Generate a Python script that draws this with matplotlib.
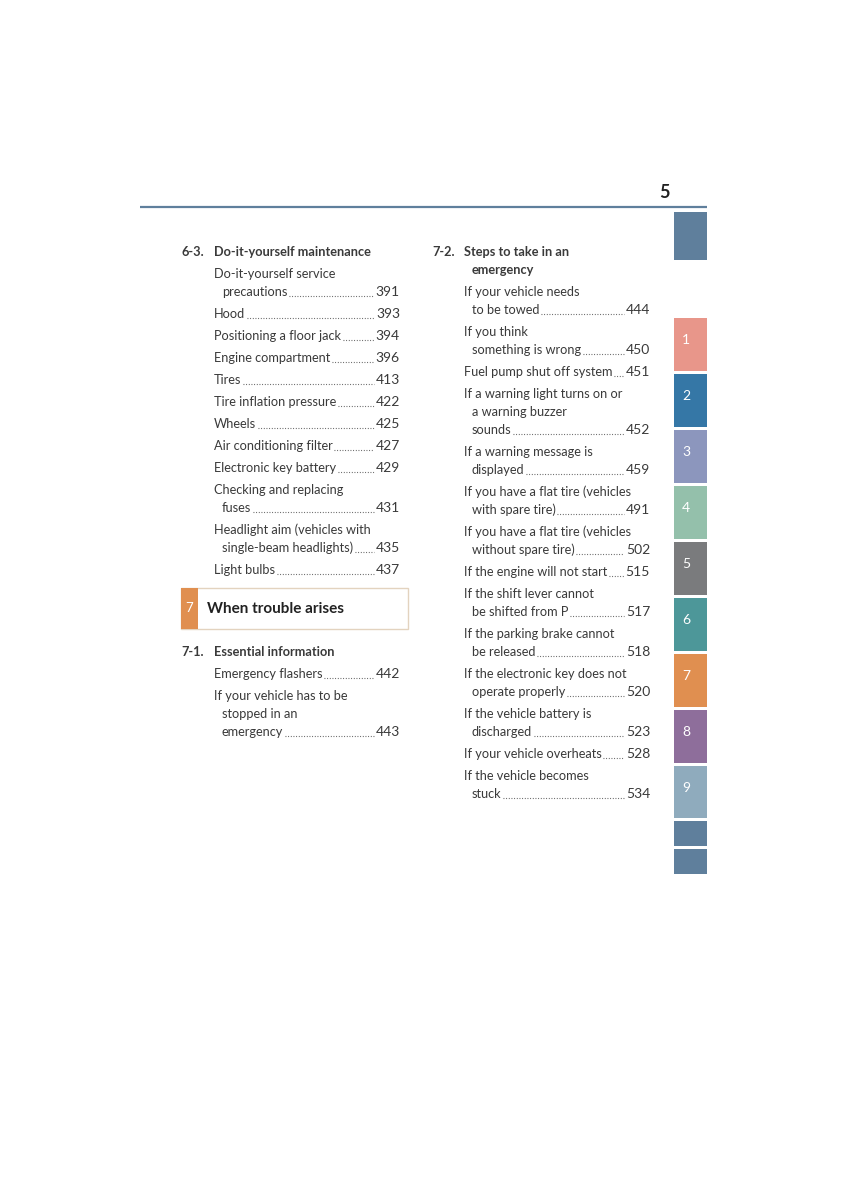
import matplotlib
matplotlib.use("Agg")
import matplotlib.pyplot as plt
from matplotlib.patches import Rectangle

plt.rcParams["font.family"] = ["Lato", "DejaVu Sans"]

# ---- page content ----
page_number = "5"

sec_63_num = "6-3."
sec_63_title = ["Do-it-yourself maintenance"]
sec_63_items = [
    (["Do-it-yourself service", "precautions"], "391"),
    (["Hood"], "393"),
    (["Positioning a floor jack"], "394"),
    (["Engine compartment"], "396"),
    (["Tires"], "413"),
    (["Tire inflation pressure"], "422"),
    (["Wheels"], "425"),
    (["Air conditioning filter"], "427"),
    (["Electronic key battery"], "429"),
    (["Checking and replacing", "fuses"], "431"),
    (["Headlight aim (vehicles with", "single-beam headlights)"], "435"),
    (["Light bulbs"], "437"),
]

chapter_num = "7"
chapter_title = "When trouble arises"

sec_71_num = "7-1."
sec_71_title = ["Essential information"]
sec_71_items = [
    (["Emergency flashers"], "442"),
    (["If your vehicle has to be", "stopped in an", "emergency"], "443"),
]

sec_72_num = "7-2."
sec_72_title = ["Steps to take in an", "emergency"]
sec_72_items = [
    (["If your vehicle needs", "to be towed"], "444"),
    (["If you think", "something is wrong"], "450"),
    (["Fuel pump shut off system"], "451"),
    (["If a warning light turns on or", "a warning buzzer", "sounds"], "452"),
    (["If a warning message is", "displayed"], "459"),
    (["If you have a flat tire (vehicles", "with spare tire)"], "491"),
    (["If you have a flat tire (vehicles", "without spare tire)"], "502"),
    (["If the engine will not start"], "515"),
    (["If the shift lever cannot", "be shifted from P"], "517"),
    (["If the parking brake cannot", "be released"], "518"),
    (["If the electronic key does not", "operate properly"], "520"),
    (["If the vehicle battery is", "discharged"], "523"),
    (["If your vehicle overheats"], "528"),
    (["If the vehicle becomes", "stuck"], "534"),
]

tab_labels = ["", "1", "2", "3", "4", "5", "6", "7", "8", "9", "", ""]
tab_colors = ["#5f7f9c", "#e8968a", "#3577a6", "#8c96bd", "#94c0ab", "#7a7b7d",
              "#4d9799", "#e08f50", "#8e6e9b", "#8fabbd", "#5f7f9c", "#5f7f9c"]

# ---- layout ----
W, H = 848, 1200
TEXT = "#3a3a3a"
FS = 9.2
LINE = 18
GAP = 22

fig = plt.figure(figsize=(W / 100, H / 100), dpi=100)
ax = fig.add_axes([0, 0, 1, 1])
ax.set_xlim(0, W)
ax.set_ylim(H, 0)
ax.axis("off")

leaders = []  # (text artist, number artist, baseline y)


def draw_section(x_num, x_text, x_right, y, num, title, items):
    ax.text(x_num, y + 4.5, num, fontsize=FS, color=TEXT, fontweight="bold", va="baseline")
    for i, line in enumerate(title):
        ax.text(x_text + (8 if i else 0), y + 4.5, line, fontsize=FS, color=TEXT,
                fontweight="bold", va="baseline")
        if i < len(title) - 1:
            y += LINE
    for lines, page in items:
        y += GAP
        for i, line in enumerate(lines):
            t = ax.text(x_text + (8 if i else 0), y + 4.5, line, fontsize=FS,
                        color=TEXT, va="baseline")
            if i < len(lines) - 1:
                y += LINE
        n = ax.text(x_right, y + 4.5, page, fontsize=FS + 0.8, color=TEXT,
                    va="baseline", ha="right")
        leaders.append((t, n, y + 4.5))
    return y


# page number and rule
ax.text(670, 198, page_number, fontsize=13, fontweight="bold", color="#222222",
        ha="right", va="baseline")
ax.plot([140, 707], [206.5, 206.5], color="#5f7f9c", lw=1.6, solid_capstyle="butt")

# side tabs
tab_tops = [212, 318, 374, 430, 486, 542, 598, 654, 710, 766, 821, 849]
tab_h = [48, 53, 53, 53, 53, 53, 53, 53, 53, 52, 25, 25]
for top, h, c, lab in zip(tab_tops, tab_h, tab_colors, tab_labels):
    ax.add_patch(Rectangle((674, top), 33, h, facecolor=c, edgecolor="none"))
    if lab:
        ax.text(686, top + h / 2 - 4, lab, fontsize=10, color="white",
                ha="center", va="center")

# left column
draw_section(181, 214, 400, 252, sec_63_num, sec_63_title, sec_63_items)

ax.add_patch(Rectangle((181, 588), 227, 41, facecolor="white", edgecolor="#e3d3bf", lw=1.0))
ax.add_patch(Rectangle((181, 588), 17, 41, facecolor="#e08f50", edgecolor="none"))
ax.text(189.5, 608, chapter_num, fontsize=9.5, color="white", ha="center", va="center")
ax.text(207, 613, chapter_title, fontsize=11, fontweight="bold", color="#222222",
        va="baseline")

draw_section(181, 214, 400, 652, sec_71_num, sec_71_title, sec_71_items)

# right column
draw_section(432, 464, 650, 252, sec_72_num, sec_72_title, sec_72_items)

# dot leaders
fig.canvas.draw()
r = fig.canvas.get_renderer()
inv = ax.transData.inverted()
for t, n, yb in leaders:
    x0 = inv.transform(t.get_window_extent(r).get_points())[1][0] + 1.5
    x1 = inv.transform(n.get_window_extent(r).get_points())[0][0] - 2
    ax.plot([x0, x1], [yb - 0.5, yb - 0.5], color="#555555", lw=0.8,
            linestyle=(0, (0.8, 1.6)), dash_capstyle="butt")

fig.savefig("out.png", dpi=100)
